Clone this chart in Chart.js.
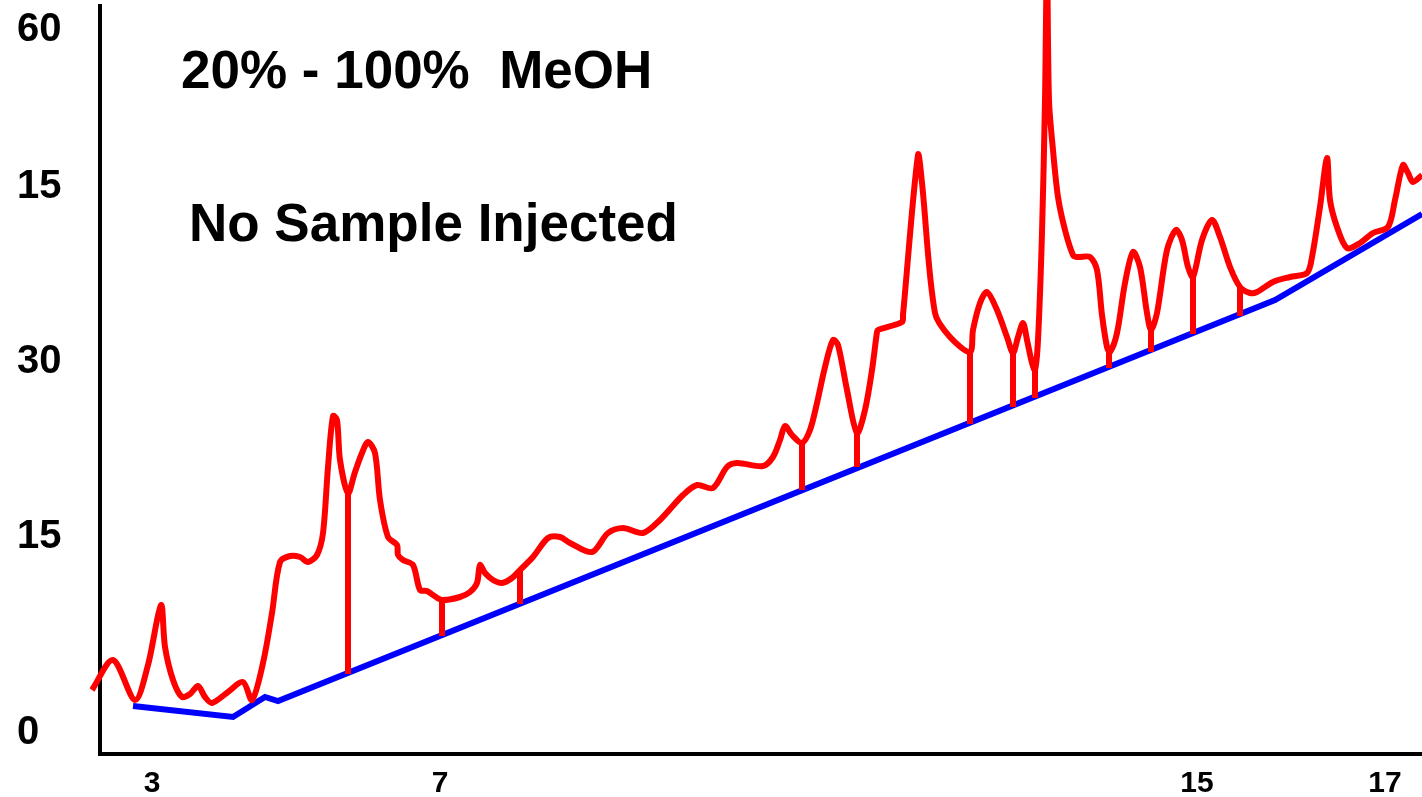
<!DOCTYPE html>
<html>
<head>
<meta charset="utf-8">
<style>
html,body{margin:0;padding:0;background:#fff;}
#wrap{width:1422px;height:797px;}
</style>
<script src="https://cdn.jsdelivr.net/npm/chart.js@4.4.1/dist/chart.umd.min.js"></script>
</head>
<body>
<div id="wrap"><canvas id="c" width="1422" height="797"></canvas></div>
<script>
// ---- Data (x in time units of the plot, y in signal units) ----
const traceX = [92,113,135,148,161,165,173,182,190,198,205,212,228,243,252,263,272,280,290,300,308,317,323,328,333,337,340,348,355,362,368,375,380,388,397,398,403,413,420,427,433,442,460,470,477,480,485,493,502,512,520,533,548,560,570,592,608,623,643,660,683,697,713,727,737,763,773,780,785,792,802,810,817,825,833,838,847,857,865,872,877,878,902,903,918,922,935,950,970,973,980,987,997,1007,1013,1018,1023,1027,1032,1035,1038,1042,1045,1047,1049,1053,1058,1065,1073,1077,1090,1097,1102,1107,1110,1117,1125,1133,1140,1147,1151,1157,1167,1176,1182,1188,1193,1202,1212,1220,1230,1240,1250,1257,1273,1290,1307,1312,1320,1327,1330,1337,1347,1360,1373,1388,1395,1403,1408,1413,1422];
const traceY = [64,94,54,89,149,107,74,57,60,68,57,51,62,72,54,91,141,192,198,197,192,199,221,287,338,334,294,261,282,301,312,301,254,217,209,199,194,189,164,163,159,154,157,162,171,189,181,174,171,176,184,197,216,217,211,202,221,226,221,234,259,269,266,287,291,288,297,314,328,319,311,324,351,387,414,409,364,321,344,384,422,424,432,439,599,571,441,417,402,424,451,462,444,417,401,417,431,414,391,384,414,521,654,794,654,604,557,524,499,497,497,484,439,407,402,421,471,502,487,441,424,441,504,524,514,487,477,514,534,517,487,467,461,462,472,477,481,497,547,596,554,527,506,511,521,527,554,589,581,572,579];

const baseX = [133,233,265,278,1275,1422];
const baseY = [48,37,57,53,454,540];

const dropX      = [348,442,520,802,857,970,1013,1035,1109,1151,1193,1240];
const dropTop    = [261,154,184,311,321,402,401,384,402,424,477,467];
const dropBottom = [80,118,150,264,287,330,347,356,386,402,420,438];

const xTickVals   = [152,440,1197,1385];
const xTickLabels = ['3','7','15','17'];
const yTickVals   = [21,217,392,567,724];
const yTickLabels = ['0','15','30','15','60'];

const notes = ['20% - 100%  MeOH', 'No Sample Injected'];

// ---- Build datasets ----
const tracePts = traceX.map((x,i)=>({x:x,y:traceY[i]}));
const basePts = baseX.map((x,i)=>({x:x,y:baseY[i]}));
const dropPts = [];
dropX.forEach((x,i)=>{
  dropPts.push({x:x,y:dropTop[i]});
  dropPts.push({x:x,y:dropBottom[i]});
  dropPts.push({x:x,y:null});
});

const notesPlugin = {
  id:'notes',
  afterDraw(chart){
    const ctx = chart.ctx;
    ctx.save();
    ctx.fillStyle = '#000';
    ctx.font = 'bold 53px "Liberation Sans", Arial, sans-serif';
    ctx.textBaseline = 'alphabetic';
    ctx.textAlign = 'left';
    ctx.fillText(notes[0], 181, 88);
    ctx.fillText(notes[1], 189, 241);
    ctx.restore();
  }
};

new Chart(document.getElementById('c'), {
  type:'line',
  data:{
    datasets:[
      {data:tracePts, borderColor:'#FF0000', borderWidth:6, tension:0.3, pointRadius:0, clip:false, fill:false, borderJoinStyle:'round'},
      {data:dropPts, borderColor:'#FF0000', borderWidth:6, tension:0, pointRadius:0, spanGaps:false, clip:false, borderCapStyle:'butt'},
      {data:basePts, borderColor:'#0000FF', borderWidth:6, tension:0, pointRadius:0, clip:false}
    ]
  },
  options:{
    responsive:false,
    animation:false,
    devicePixelRatio:1,
    layout:{padding:{left:17, top:6, right:0, bottom:0}},
    plugins:{legend:{display:false}, tooltip:{enabled:false}, title:{display:false}},
    scales:{
      x:{
        type:'linear', min:100, max:1422,
        grid:{display:false, drawTicks:false},
        border:{display:true, color:'#000', width:4},
        afterBuildTicks(s){ s.ticks = xTickVals.map(v=>({value:v})); },
        afterFit(s){ s.height = 43; s.paddingLeft = 0; s.paddingRight = 0; },
        ticks:{
          autoSkip:false, maxRotation:0, padding:12, color:'#000',
          font:{family:'"Liberation Sans", Arial, sans-serif', size:30, weight:'bold'},
          callback(v){ const i = xTickVals.indexOf(v); return i>=0 ? xTickLabels[i] : ''; }
        }
      },
      y:{
        type:'linear', min:0, max:748,
        grid:{display:false, drawTicks:false},
        border:{display:true, color:'#000', width:4},
        afterBuildTicks(s){ s.ticks = yTickVals.map(v=>({value:v})); },
        afterFit(s){ s.width = 83; s.paddingTop = 0; s.paddingBottom = 0; },
        ticks:{
          autoSkip:false, crossAlign:'far', padding:0, color:'#000',
          font:{family:'"Liberation Sans", Arial, sans-serif', size:40, weight:'bold'},
          callback(v){ const i = yTickVals.indexOf(v); return i>=0 ? yTickLabels[i] : ''; }
        }
      }
    }
  },
  plugins:[notesPlugin]
});
</script>
</body>
</html>
